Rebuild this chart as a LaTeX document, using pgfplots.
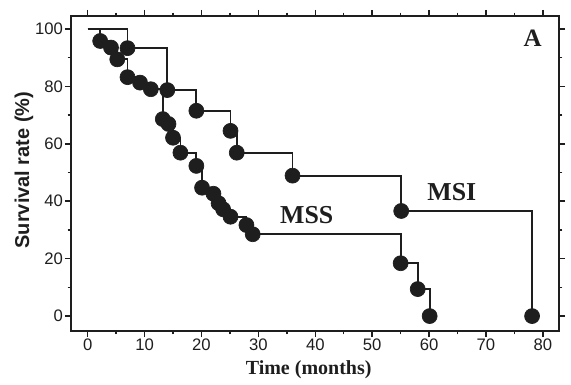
\documentclass[border=0pt]{standalone}
\usepackage{fontspec}
\setmainfont{Liberation Sans}
\newfontfamily\timesf{Liberation Serif}
\usepackage{pgfplots}
\pgfplotsset{compat=1.18}
\usepackage{pgfplotstable}
\definecolor{ink}{HTML}{1E1E1E}

\pgfplotstableread{
t s
0 100
2.2 95.8
4.1 93.5
5.2 89.4
7.0 83.2
9.2 81.3
11.1 79.0
13.2 68.6
14.2 66.9
15.0 62.1
16.3 56.9
19.1 52.3
20.1 44.7
22.1 42.6
23.0 39.3
23.8 37.2
25.1 34.6
27.9 31.7
29.0 28.5
55.0 18.4
58.0 9.4
60.1 0
}\mss

\pgfplotstableread{
t s
0 100
7.0 93.3
14.0 78.7
19.1 71.5
25.1 64.5
26.2 56.9
36.0 48.9
55.1 36.6
78.1 0
}\msi

\begin{document}
\begin{tikzpicture}
\begin{axis}[
  scale only axis, width=292.8pt, height=189pt,
  xmin=-2.93, xmax=82.83, ymin=-5.2, ymax=104.5,
  xtick={0,10,...,80}, ytick={0,20,...,100},
  minor xtick={5,15,...,75}, minor ytick={10,30,...,90},
  tick align=outside,
  major tick length=3.6pt, minor tick length=2pt,
  every tick/.style={ink, line width=0.9pt},
  axis line style={ink, line width=1.25pt},
  tick label style={font=\fontsize{10}{11}\selectfont, text=ink},
  /pgf/number format/assume math mode=true,
  xticklabel style={inner sep=1pt},
  yticklabel style={inner sep=1pt},
  xlabel={\timesf\bfseries Time (months)},
  ylabel={\bfseries Survival rate (\%)},
  xlabel style={at={(axis description cs:0.487,-0.1238)}, anchor=center, font=\fontsize{12}{13}\selectfont, text=ink},
  ylabel style={at={(axis description cs:-0.0963,0.511)}, anchor=center, font=\fontsize{12}{13}\selectfont, text=ink},
  clip=false,
]
\addplot[const plot, ink, line width=1.1pt, no marks] table[x=t,y=s] {\msi};
\addplot[const plot, ink, line width=1.1pt, no marks] table[x=t,y=s] {\mss};
\addplot[only marks, mark=*, mark size=4.5pt, mark options={fill=ink, draw=ink}, skip coords between index={0}{1}] table[x=t,y=s] {\msi};
\addplot[only marks, mark=*, mark size=4.5pt, mark options={fill=ink, draw=ink}, skip coords between index={0}{1}] table[x=t,y=s] {\mss};
\node[text=ink, font=\timesf\bfseries\fontsize{15.5}{16}\selectfont] at (axis cs:38.5,35.2) {MSS};
\node[text=ink, font=\timesf\bfseries\fontsize{15.5}{16}\selectfont] at (axis cs:64.0,43.2) {MSI};
\node[text=ink, font=\timesf\bfseries\fontsize{15}{16}\selectfont] at (axis cs:78.2,96.8) {A};
\end{axis}
\path (current axis.south west) ++(-42.6pt,-31.2pt);
\path (current axis.north east) ++(7.2pt,9.6pt);
\end{tikzpicture}
\end{document}
